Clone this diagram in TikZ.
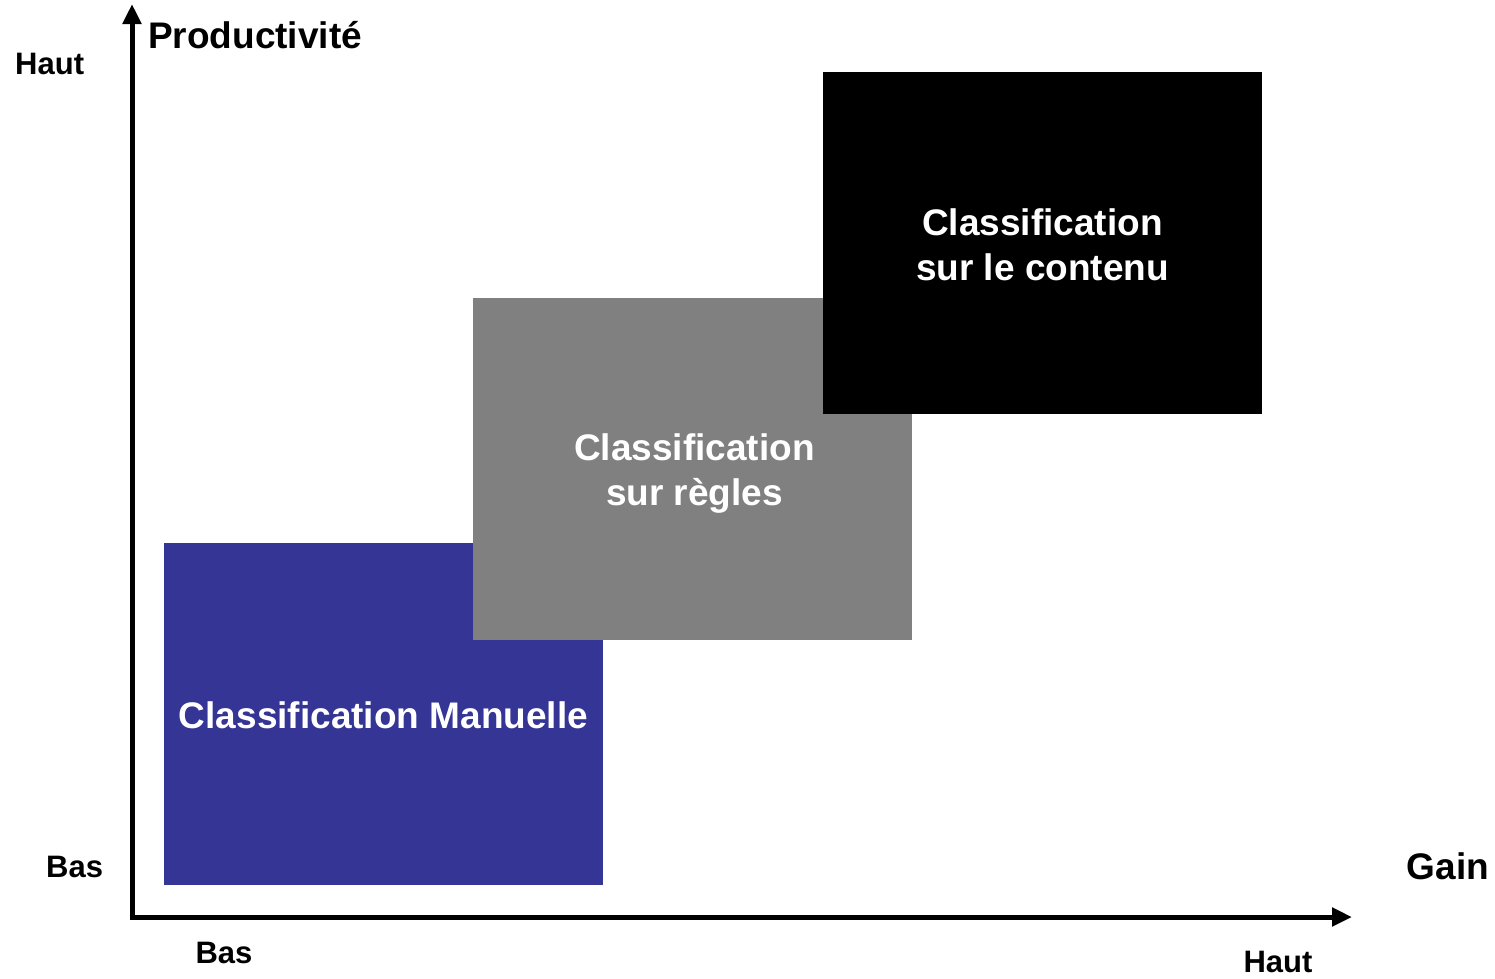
\documentclass[tikz,border=0pt]{standalone}
\usepackage{fontspec}
\setmainfont{Liberation Sans}
\usetikzlibrary{arrows.meta}
\definecolor{manblue}{HTML}{353595}
\definecolor{rulegray}{HTML}{808080}
\tikzset{
  boxnode/.style={minimum width=439pt, minimum height=342pt, inner sep=0pt, outer sep=0pt,
    anchor=north west},
  boxtext/.style={inner sep=0pt, text=white, align=center, font=\bfseries\fontsize{37}{45}\selectfont},
  axislabel/.style={inner sep=0pt, font=\bfseries\fontsize{31}{36}\selectfont},
  biglabel/.style={inner sep=0pt, font=\bfseries\fontsize{37}{44}\selectfont},
  axisline/.style={line width=5pt, -{Triangle[length=20pt,width=18pt]}}
}
\begin{document}
\begin{tikzpicture}[x=1pt,y=-1pt]
\useasboundingbox (0,0) rectangle (1495,978);
\node[boxnode, fill=manblue] (manual) at (164,543) {};
\node[boxnode, fill=rulegray] (rules) at (473,298) {};
\node[boxnode, fill=black] (content) at (823,72) {};
\node[boxtext] (manualtext) at ([yshift=-1pt]manual.center) {Classification Manuelle};
\node[boxtext] (rulestext) at ([xshift=2pt,yshift=-5pt]rules.center) {Classification\\sur règles};
\node[boxtext] (contenttext) at ([yshift=-2pt]content.center) {Classification\\sur le contenu};
\coordinate (O) at (132,918);
\coordinate (ytip) at (132,4);
\coordinate (xtip) at (1352,917);
\draw[axisline] (O) -- (ytip);
\draw[axisline] ([xshift=-2.5pt]O |- xtip) -- (xtip);
\node[biglabel, anchor=west] (prod) at (148,35) {Productivité};
\node[axislabel, anchor=west] (yhigh) at (15,64) {Haut};
\node[axislabel, anchor=west] (ylow) at (46,867) {Bas};
\node[biglabel] (gain) at (1448,866) {Gain};
\node[axislabel] (xlow) at (224,953) {Bas};
\node[axislabel] (xhigh) at (1278,962) {Haut};
\end{tikzpicture}
\end{document}
